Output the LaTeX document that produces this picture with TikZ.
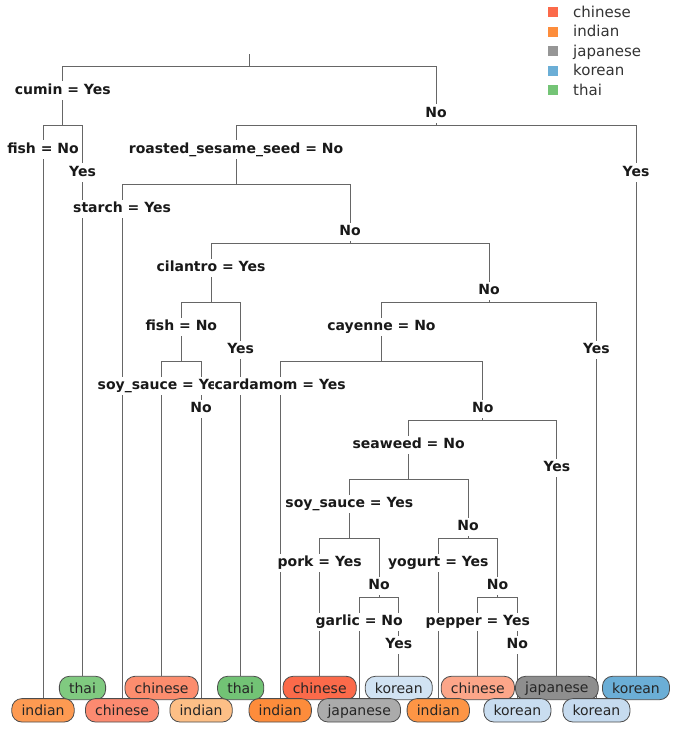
\documentclass[tikz,border=0pt]{standalone}
\usepackage{fontspec}
\setmainfont{DejaVu Sans}
\usetikzlibrary{backgrounds}
\definecolor{cA}{HTML}{FD9A52}
\definecolor{cB}{HTML}{80CA80}
\definecolor{cC}{HTML}{FC8A70}
\definecolor{cD}{HTML}{FC8D6E}
\definecolor{cE}{HTML}{FDBF86}
\definecolor{cF}{HTML}{72C375}
\definecolor{cG}{HTML}{FD8C3B}
\definecolor{cH}{HTML}{FB6A4A}
\definecolor{cI}{HTML}{ABABAB}
\definecolor{cJ}{HTML}{D1E3F3}
\definecolor{cK}{HTML}{FD9545}
\definecolor{cL}{HTML}{FCA689}
\definecolor{cM}{HTML}{C9DDF0}
\definecolor{cN}{HTML}{8E8E8E}
\definecolor{cO}{HTML}{C6DBEF}
\definecolor{cP}{HTML}{6BAED6}
\definecolor{lgChinese}{HTML}{FB6A4A}
\definecolor{lgIndian}{HTML}{FD8D3C}
\definecolor{lgJapanese}{HTML}{969696}
\definecolor{lgKorean}{HTML}{6BAED6}
\definecolor{lgThai}{HTML}{74C476}
\begin{document}
\begin{tikzpicture}[x=1pt,y=-1pt,
  edge/.style={draw=black!60, line width=0.9pt},
  lbl/.style={font=\fontsize{14}{16}\selectfont\bfseries, fill=white, inner xsep=1pt, inner ysep=2.5pt, text height=10.2pt, text depth=3pt, anchor=base, text=black!90},
  leaf/.style={draw=black!70, line width=0.8pt, rounded corners=10pt, font=\fontsize{14}{16}\selectfont, inner xsep=9.7pt, inner ysep=5.3pt, text height=11.8pt, text depth=1pt, text=black!85},
  legsq/.style={fill=#1, draw=none, minimum size=10pt, inner sep=0pt},
  legtxt/.style={font=\fontsize{15}{17}\selectfont, anchor=base west, text=black!80, inner sep=0pt}]
\useasboundingbox (0,0) rectangle (682,732);

% legend
\node[legsq=lgChinese] (q1) at (553,12) {};
\node[legsq=lgIndian] (q2) at (553,31.6) {};
\node[legsq=lgJapanese] (q3) at (553,51.2) {};
\node[legsq=lgKorean] (q4) at (553,70.8) {};
\node[legsq=lgThai] (q5) at (553,90.4) {};
\node[legtxt] (t1) at (573,17) {chinese};
\node[legtxt] (t2) at (573,36.6) {indian};
\node[legtxt] (t3) at (573,56.2) {japanese};
\node[legtxt] (t4) at (573,75.8) {korean};
\node[legtxt] (t5) at (573,95.4) {thai};

% internal junctions
\coordinate (rtop) at (249.4,54);
\coordinate (n0) at (249.4,66);
\coordinate (nB) at (62.75,125.1);
\coordinate (nC) at (436.02,125.1);
\coordinate (nD) at (236.04,184.2);
\coordinate (nE) at (349.98,243.3);
\coordinate (nF) at (211.0,302.4);
\coordinate (nH) at (488.95,302.4);
\coordinate (nG) at (181.35,361.5);
\coordinate (nI) at (381.5,361.5);
\coordinate (nJ) at (482.8,420.6);
\coordinate (nK) at (408.65,479.7);
\coordinate (nL) at (349.35,538.8);
\coordinate (nN) at (467.95,538.8);
\coordinate (nM) at (379.0,597.9);
\coordinate (nO) at (497.6,597.9);

% leaves, top row
\node[leaf, fill=cB] (l2) at (82.5,688) {thai};
\node[leaf, fill=cD] (l4) at (161.6,688) {chinese};
\node[leaf, fill=cF] (l6) at (240.7,688) {thai};
\node[leaf, fill=cH] (l8) at (319.7,688) {chinese};
\node[leaf, fill=cJ] (l10) at (398.8,688) {korean};
\node[leaf, fill=cL] (l12) at (477.8,688) {chinese};
\node[leaf, fill=cN] (l14) at (556.9,688) {\raisebox{1.2pt}{japanese}};
\node[leaf, fill=cP] (l16) at (636,688) {korean};
% leaves, bottom row
\node[leaf, fill=cA] (l1) at (43,710.3) {indian};
\node[leaf, fill=cC] (l3) at (122.1,710.3) {chinese};
\node[leaf, fill=cE] (l5) at (201.1,710.3) {indian};
\node[leaf, fill=cG] (l7) at (280.2,710.3) {indian};
\node[leaf, fill=cI] (l9) at (359.2,710.3) {japanese};
\node[leaf, fill=cK] (l11) at (438.3,710.3) {indian};
\node[leaf, fill=cM] (l13) at (517.4,710.3) {korean};
\node[leaf, fill=cO] (l15) at (596.4,710.3) {korean};

% edge labels
\node[lbl] (a1) at (62.75,94) {cumin = Yes};
\node[lbl] (a2) at (436.02,117) {No};
\node[lbl] (b1) at (43,153) {fish = No};
\node[lbl] (b2) at (82.5,176) {Yes};
\node[lbl] (c1) at (236.04,153) {roasted\_sesame\_seed = No};
\node[lbl] (c2) at (636,176) {Yes};
\node[lbl] (d1) at (122.1,212.2) {starch = Yes};
\node[lbl] (d2) at (349.98,235.2) {No};
\node[lbl] (e1) at (211.0,271.3) {cilantro = Yes};
\node[lbl] (e2) at (488.95,294.3) {No};
\node[lbl] (f1) at (181.35,330.4) {fish = No};
\node[lbl] (f2) at (240.7,353.4) {Yes};
\node[lbl] (h1) at (381.5,330.4) {cayenne = No};
\node[lbl] (h2) at (596.4,353.4) {Yes};
\node[lbl] (g1) at (161.6,389.5) {soy\_sauce = Yes};
\node[lbl] (g2) at (201.1,412.5) {No};
\node[lbl] (i1) at (280.2,389.5) {cardamom = Yes};
\node[lbl] (i2) at (482.8,412.5) {No};
\node[lbl] (j1) at (408.65,448.6) {seaweed = No};
\node[lbl] (j2) at (556.9,471.6) {Yes};
\node[lbl] (k1) at (349.35,507.7) {soy\_sauce = Yes};
\node[lbl] (k2) at (467.95,530.7) {No};
\node[lbl] (m1) at (319.7,566.8) {pork = Yes};
\node[lbl] (m2) at (379.0,589.8) {No};
\node[lbl] (o1) at (438.3,566.8) {yogurt = Yes};
\node[lbl] (o2) at (497.6,589.8) {No};
\node[lbl] (p1) at (359.2,625.9) {garlic = No};
\node[lbl] (p2) at (398.8,648.9) {Yes};
\node[lbl] (r1) at (477.8,625.9) {pepper = Yes};
\node[lbl] (r2) at (517.4,648.9) {No};

% connectors
\begin{scope}[on background layer]
\draw[edge] (rtop) -- (n0);
\draw[edge] (n0) -| (nB);
\draw[edge] (n0) -| (nC);
\draw[edge] (nB) -| (l1.north);
\draw[edge] (nB) -| (l2.north);
\draw[edge] (nC) -| (nD);
\draw[edge] (nC) -| (l16.north);
\draw[edge] (nD) -| (l3.north);
\draw[edge] (nD) -| (nE);
\draw[edge] (nE) -| (nF);
\draw[edge] (nE) -| (nH);
\draw[edge] (nF) -| (nG);
\draw[edge] (nF) -| (l6.north);
\draw[edge] (nH) -| (nI);
\draw[edge] (nH) -| (l15.north);
\draw[edge] (nG) -| (l4.north);
\draw[edge] (nG) -| (l5.north);
\draw[edge] (nI) -| (l7.north);
\draw[edge] (nI) -| (nJ);
\draw[edge] (nJ) -| (nK);
\draw[edge] (nJ) -| (l14.north);
\draw[edge] (nK) -| (nL);
\draw[edge] (nK) -| (nN);
\draw[edge] (nL) -| (l8.north);
\draw[edge] (nL) -| (nM);
\draw[edge] (nN) -| (l11.north);
\draw[edge] (nN) -| (nO);
\draw[edge] (nM) -| (l9.north);
\draw[edge] (nM) -| (l10.north);
\draw[edge] (nO) -| (l12.north);
\draw[edge] (nO) -| (l13.north);
\end{scope}
\end{tikzpicture}
\end{document}
